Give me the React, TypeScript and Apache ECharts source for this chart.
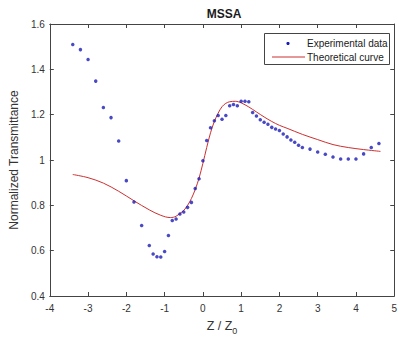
import React, { useEffect, useRef } from "react";
import * as echarts from "echarts";

const expX = [
  -3.4, -3.2, -3.0, -2.8, -2.6, -2.4, -2.2, -2.0, -1.8, -1.6, -1.4, -1.3, -1.2, -1.1, -1.0, -0.9,
  -0.8, -0.7, -0.6, -0.5, -0.4, -0.3, -0.2, -0.1, 0.0, 0.1, 0.2, 0.3, 0.4, 0.5, 0.6, 0.7, 0.8,
  0.9, 1.0, 1.1, 1.2, 1.3, 1.4, 1.5, 1.6, 1.7, 1.8, 1.9, 2.0, 2.1, 2.2, 2.3, 2.4, 2.5, 2.6, 2.8,
  3.0, 3.2, 3.4, 3.6, 3.8, 4.0, 4.2, 4.4, 4.6,
];
const expY = [
  1.51, 1.487, 1.443, 1.348, 1.232, 1.187, 1.084, 0.909, 0.815, 0.711, 0.623, 0.585, 0.573, 0.572,
  0.596, 0.667, 0.733, 0.74, 0.762, 0.771, 0.791, 0.813, 0.874, 0.917, 0.997, 1.086, 1.142, 1.173,
  1.196, 1.18, 1.196, 1.239, 1.245, 1.239, 1.259, 1.259, 1.257, 1.21, 1.194, 1.178, 1.167, 1.158,
  1.144, 1.137, 1.13, 1.115, 1.102, 1.088, 1.078, 1.065, 1.055, 1.048, 1.035, 1.025, 1.013, 1.004,
  1.004, 1.004, 1.027, 1.055, 1.073,
];

const theoX = [
  -3.4, -3.0, -2.6, -2.2, -1.8, -1.4, -1.1, -0.85, -0.7, -0.5, -0.4, -0.3, -0.2, -0.1, 0.0, 0.1,
  0.2, 0.3, 0.4, 0.5, 0.6, 0.7, 0.85, 1.0, 1.2, 1.4, 1.6, 1.8, 2.0, 2.2, 2.6, 3.0, 3.4, 3.8, 4.2,
  4.64,
];
const theoY = [
  0.936, 0.922, 0.898, 0.862, 0.82, 0.78, 0.756, 0.746, 0.752, 0.778, 0.8, 0.83, 0.87, 0.92, 0.985,
  1.055, 1.12, 1.17, 1.207, 1.235, 1.25, 1.257, 1.259, 1.252, 1.234, 1.212, 1.19, 1.17, 1.153, 1.14,
  1.113, 1.09, 1.068, 1.055, 1.046, 1.038,
];

const xTicks = { min: -4, max: 5, interval: 1 };
const yTicks = { min: 0.4, max: 1.6, interval: 0.2 };

const titleText = "MSSA";
const yName = "Normalized Transmittance";
const legendNames = ["Experimental data", "Theoretical curve"];

const FONT = "Liberation Sans, Arial, sans-serif";
const AX = "#444444";
const LBL = "#333333";
const DOT = "#1c1cb8";
const RED = "#cc3030";

export default function App() {
  const ref = useRef<HTMLDivElement>(null);
  useEffect(() => {
    if (!ref.current) return;
    const chart = echarts.init(ref.current, null, { renderer: "svg" });
    const baseX = {
      type: "value" as const,
      min: xTicks.min,
      max: xTicks.max,
      interval: xTicks.interval,
      splitLine: { show: false },
      axisLine: { show: true, onZero: false, lineStyle: { color: AX, width: 1 } },
      axisTick: { show: true, inside: true, length: 4, lineStyle: { color: AX } },
    };
    const baseY = {
      type: "value" as const,
      min: yTicks.min,
      max: yTicks.max,
      interval: yTicks.interval,
      splitLine: { show: false },
      axisLine: { show: true, onZero: false, lineStyle: { color: AX, width: 1 } },
      axisTick: { show: true, inside: true, length: 4, lineStyle: { color: AX } },
    };
    chart.setOption({
      animation: false,
      backgroundColor: "#ffffff",
      grid: { left: 47, right: 2, top: 24, bottom: 40, containLabel: false },
      xAxis: [
        {
          ...baseX,
          position: "bottom",
          axisLabel: {
            show: true,
            margin: 7,
            color: LBL,
            fontFamily: FONT,
            fontSize: 10,
            formatter: (v: number) => String(Math.round(v)),
          },
          name: "Z / Z{sub|0}",
          nameLocation: "middle",
          nameGap: 21,
          nameTextStyle: {
            color: LBL,
            fontFamily: FONT,
            fontSize: 12.5,
            verticalAlign: "top",
            rich: {
              sub: { fontFamily: FONT, fontSize: 9, color: LBL, padding: [9, 0, 0, 0] },
            },
          },
        },
        { ...baseX, position: "top", axisLabel: { show: false } },
      ],
      yAxis: [
        {
          ...baseY,
          position: "left",
          axisLabel: {
            show: true,
            margin: 5,
            color: LBL,
            fontFamily: FONT,
            fontSize: 10,
            formatter: (v: number) => String(Math.round(v * 10) / 10),
          },
          name: yName,
          nameLocation: "middle",
          nameGap: 23,
          nameTextStyle: { color: LBL, fontFamily: FONT, fontSize: 12 },
        },
        { ...baseY, position: "right", axisLabel: { show: false } },
      ],
      series: [
        {
          name: legendNames[0],
          type: "scatter",
          xAxisIndex: 0,
          yAxisIndex: 0,
          data: expX.map((x, i) => [x, expY[i]]),
          symbol: "circle",
          symbolSize: 3.5,
          itemStyle: { color: DOT },
          z: 3,
        },
        {
          name: legendNames[1],
          type: "line",
          xAxisIndex: 0,
          yAxisIndex: 0,
          data: theoX.map((x, i) => [x, theoY[i]]),
          smooth: 0.35,
          showSymbol: false,
          lineStyle: { color: RED, width: 1 },
          z: 2,
        },
      ],
      graphic: [
        {
          type: "text",
          x: 224,
          y: 14,
          style: {
            text: titleText,
            fontFamily: FONT,
            fontSize: 12,
            fontWeight: "bold",
            fill: "#1a1a1a",
            textAlign: "center",
            textVerticalAlign: "middle",
          },
        },
        {
          type: "rect",
          shape: { x: 264.5, y: 33.5, width: 125, height: 31 },
          style: { fill: "#ffffff", stroke: AX, lineWidth: 1 },
          z: 10,
        },
        {
          type: "circle",
          shape: { cx: 288, cy: 43.5, r: 1.6 },
          style: { fill: DOT },
          z: 11,
        },
        {
          type: "line",
          shape: { x1: 272, y1: 57, x2: 305, y2: 57 },
          style: { stroke: RED, lineWidth: 1 },
          z: 11,
        },
        {
          type: "text",
          x: 307,
          y: 43.5,
          style: {
            text: legendNames[0],
            fontFamily: FONT,
            fontSize: 10,
            fill: "#1a1a1a",
            textVerticalAlign: "middle",
          },
          z: 11,
        },
        {
          type: "text",
          x: 307,
          y: 57,
          style: {
            text: legendNames[1],
            fontFamily: FONT,
            fontSize: 10,
            fill: "#1a1a1a",
            textVerticalAlign: "middle",
          },
          z: 11,
        },
      ],
    });
    return () => chart.dispose();
  }, []);
  return (
    <div
      ref={ref}
      style={{ position: "absolute", left: 0, top: 0, width: 400, height: 340, background: "#fff" }}
    />
  );
}
